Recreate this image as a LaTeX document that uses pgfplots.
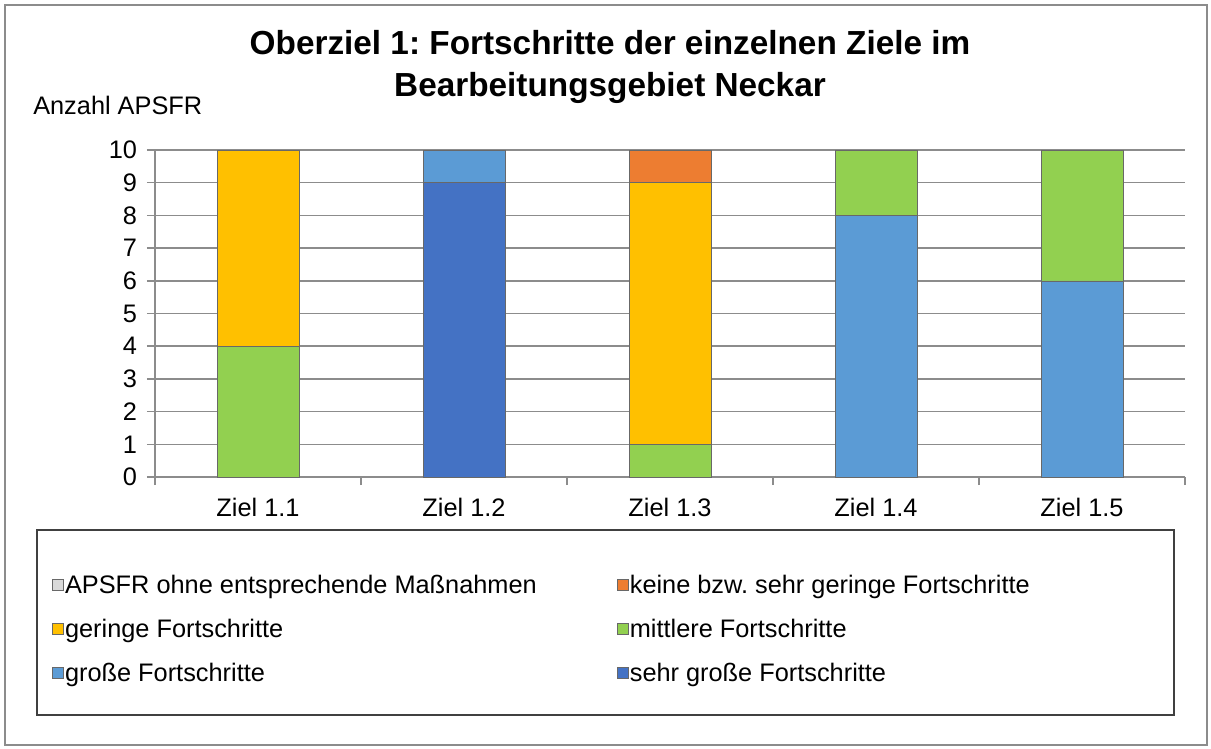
\documentclass[border=0pt]{standalone}
\usepackage{fontspec}
\setmainfont{Liberation Sans}
\usepackage{pgfplots}
\pgfplotsset{compat=1.18}
\frenchspacing

\definecolor{cOhne}{HTML}{D9D9D9}
\definecolor{cKeine}{HTML}{ED7D31}
\definecolor{cGering}{HTML}{FFC000}
\definecolor{cMittel}{HTML}{92D050}
\definecolor{cGross}{HTML}{5B9BD5}
\definecolor{cSehr}{HTML}{4472C4}
\definecolor{edge}{HTML}{686868}
\definecolor{gridgray}{HTML}{8C8C8C}

\begin{document}
\begin{tikzpicture}
% frame, title and y label, in pixel units of the reference
\begin{scope}[x=0.75pt,y=-0.75pt]
\path (0,0) rectangle (1211,749);
\draw[gridgray, line width=0.8pt] (5,5) rectangle (1207,745);
\node[font=\fontsize{25}{31}\selectfont\bfseries, align=center] at (610,67)
  {Oberziel 1: Fortschritte der einzelnen Ziele im\\Bearbeitungsgebiet Neckar};
\node[font=\fontsize{19}{23}\selectfont, anchor=west, inner sep=0pt] at (33,105) {Anzahl APSFR};
\draw[black!75, line width=0.8pt] (37,530) rectangle (1174,715);
\end{scope}

\begin{axis}[
    at={(116.25pt,-357.75pt)}, anchor=south west,
    scale only axis,
    width=772.5pt, height=245.25pt,
    ybar stacked, bar width=61.5pt,
    xmin=-0.5, xmax=4.5, ymin=0, ymax=10,
    xtick={0,1,2,3,4},
    xticklabels={Ziel 1.1, Ziel 1.2, Ziel 1.3, Ziel 1.4, Ziel 1.5},
    minor xtick={-0.5,0.5,1.5,2.5,3.5,4.5},
    ytick={0,1,...,10},
    axis x line*=bottom, axis y line*=left,
    axis line style={draw=gridgray, line width=1.1pt, -},
    tick style={draw=gridgray, line width=1.1pt},
    major x tick style={draw=none},
    tick align=outside,
    major tick length=6pt, minor tick length=6pt,
    ymajorgrids, grid style={draw=gridgray, line width=1.1pt},
    ticklabel style={font=\fontsize{19}{23}\selectfont},
    xticklabel style={yshift=-6pt},
    yticklabel style={xshift=-4pt},
    /pgf/number format/assume math mode=true,
    reverse legend,
    legend columns=2,
    legend cell align=left,
    legend style={draw=none, fill=none,
        at={(axis description cs:-0.1039,-0.281)}, anchor=north west,
        font=\fontsize{19}{23}\selectfont,
        row sep=11pt, column sep=0pt,
        nodes={inner xsep=1pt, text height=14pt, text depth=4pt}},
    legend image code/.code={\draw[#1, draw=edge, line width=0.6pt] (0pt,-3pt) rectangle (8pt,5pt);},
]
\addplot[fill=cSehr, draw=edge] coordinates {(0,0)(1,9)(2,0)(3,0)(4,0)};
\addlegendentry{sehr große Fortschritte}
\addplot[fill=cGross, draw=edge] coordinates {(0,0)(1,1)(2,0)(3,8)(4,6)};
\addlegendentry{\makebox[413pt][l]{große Fortschritte}}
\addplot[fill=cMittel, draw=edge] coordinates {(0,4)(1,0)(2,1)(3,2)(4,4)};
\addlegendentry{mittlere Fortschritte}
\addplot[fill=cGering, draw=edge] coordinates {(0,6)(1,0)(2,8)(3,0)(4,0)};
\addlegendentry{\makebox[413pt][l]{geringe Fortschritte}}
\addplot[fill=cKeine, draw=edge] coordinates {(0,0)(1,0)(2,1)(3,0)(4,0)};
\addlegendentry{keine bzw. sehr geringe Fortschritte}
\addplot[fill=cOhne, draw=edge] coordinates {(0,0)(1,0)(2,0)(3,0)(4,0)};
\addlegendentry{\makebox[413pt][l]{APSFR ohne entsprechende Maßnahmen}}
\end{axis}
\end{tikzpicture}
\end{document}
